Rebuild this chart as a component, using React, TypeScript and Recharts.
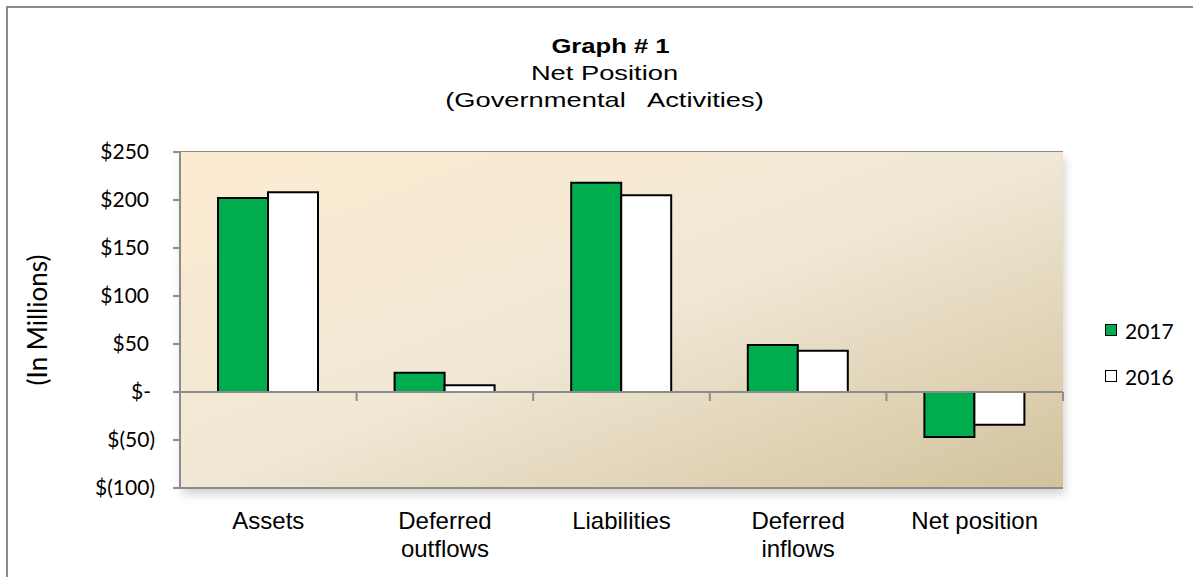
import React from 'react';
import { BarChart, Bar, XAxis, YAxis, CartesianGrid, Legend, ReferenceArea, ReferenceLine, Label } from 'recharts';

const categories = ['Assets', 'Deferred outflows', 'Liabilities', 'Deferred inflows', 'Net position'];
const values2017 = [202, 20, 218, 49, -47];
const values2016 = [208, 7, 205, 43, -34];
const yTicks = [-100, -50, 0, 50, 100, 150, 200, 250];

const data = categories.map((name, i) => ({
  name,
  y2017: values2017[i],
  y2016: values2016[i],
}));

const GREEN = '#00ad4e';
const GRID = '#8c8c8c';
const CAL = "Lato, 'Open Sans', sans-serif";
const ARIAL = "'Liberation Sans', Arial, sans-serif";

const W = 1185;
const H = 569;
const M_TOP = 144;
const PLOT_H = 336;
const Y_MIN = -100;
const Y_MAX = 250;

const fmtMoney = (v: number) => {
  if (v === 0) return '$-';
  if (v < 0) return `$(${Math.abs(v)})`;
  return `$${v}`;
};

const YTick = (props: any) => {
  const { x, y, payload } = props;
  const v = payload.value;
  const dx = v < 0 ? 0 : v === 0 ? -4 : -6;
  return (
    <text x={x + dx} y={y} dy={7} textAnchor="end" fontSize={21} fill="#000" fontFamily={CAL}>
      {fmtMoney(v)}
    </text>
  );
};

// tick marks sit on the zero line at the category edges
const XTick = (props: any) => {
  const { x, y, payload } = props;
  const words = String(payload.value).split(' ');
  const lines = words.length > 1 && payload.value !== 'Net position' ? words : [payload.value];
  const half = payload.offset ?? 88;
  const zeroY = M_TOP + ((Y_MAX - 0) / (Y_MAX - Y_MIN)) * PLOT_H;
  return (
    <g>
      <line x1={x + half} x2={x + half} y1={zeroY} y2={zeroY + 9} stroke={GRID} strokeWidth={2} />
      <text x={x} y={y + 33} textAnchor="middle" fontSize={24} fill="#000" fontFamily={ARIAL}>
        {lines.map((l: string, i: number) => (
          <tspan key={i} x={x} dy={i === 0 ? 0 : 28}>
            {l}
          </tspan>
        ))}
      </text>
    </g>
  );
};

const LegendContent = () => (
  <div style={{ fontFamily: CAL, fontSize: 21, color: '#000' }}>
    {[
      { label: '2017', fill: GREEN },
      { label: '2016', fill: '#fff' },
    ].map((it, i) => (
      <div key={it.label} style={{ display: 'flex', alignItems: 'center', height: 26, marginBottom: i === 0 ? 20 : 0 }}>
        <span style={{ display: 'inline-block', width: 10, height: 10, background: it.fill, border: '1.5px solid #000', marginRight: 8 }} />
        <span>{it.label}</span>
      </div>
    ))}
  </div>
);

export default function App() {
  return (
    <div style={{ position: 'absolute', left: 6, top: 6, width: 1187, height: 571, borderTop: `2px solid ${GRID}`, borderLeft: `2px solid ${GRID}`, background: '#fff', overflow: 'hidden' }}>
      <div style={{ position: 'absolute', left: 0, top: 24, width: 1185, textAlign: 'center', fontFamily: ARIAL, fontSize: 21, lineHeight: '27px', color: '#000' }}>
        <div style={{ fontWeight: 'bold', transform: 'translateX(10px) scaleX(1.22)' }}>Graph # 1</div>
        <div style={{ transform: 'translateX(4px) scaleX(1.3)' }}>Net Position</div>
        <div style={{ whiteSpace: 'pre', transform: 'translateX(4px) scaleX(1.3)' }}>(Governmental   Activities)</div>
      </div>
      <div style={{ position: 'absolute', left: 0, top: 0 }}>
        <BarChart
          width={W}
          height={H}
          data={data}
          margin={{ top: M_TOP, right: 40, left: 0, bottom: 0 }}
          barCategoryGap={38}
          barGap={0}
        >
          <defs>
            <linearGradient id="bg" x1="0" y1="0" x2="1" y2="1">
              <stop offset="0%" stopColor="#fdebd0" />
              <stop offset="50%" stopColor="#f0e8d5" />
              <stop offset="100%" stopColor="#d2c29c" />
            </linearGradient>
            <filter id="shadow" x="-5%" y="-5%" width="110%" height="125%">
              <feDropShadow dx="2" dy="6" stdDeviation="5" floodColor="#000" floodOpacity="0.18" />
            </filter>
          </defs>
          <ReferenceArea y1={Y_MIN} y2={Y_MAX} fill="url(#bg)" fillOpacity={1} stroke="none" filter="url(#shadow)" />
          <CartesianGrid vertical={false} stroke={GRID} strokeWidth={2} strokeOpacity={1} />
          <XAxis
            dataKey="name"
            height={89}
            interval={0}
            axisLine={{ stroke: GRID, strokeWidth: 2 }}
            tickLine={false}
            tick={<XTick />}
          />
          <YAxis
            width={172}
            domain={[Y_MIN, Y_MAX]}
            ticks={yTicks}
            interval={0}
            axisLine={{ stroke: GRID, strokeWidth: 2 }}
            tickLine={{ stroke: GRID, strokeWidth: 2 }}
            tickSize={7}
            tickMargin={18}
            tick={<YTick />}
          >
            <Label
              value="(In Millions)"
              angle={-90}
              position="insideLeft"
              offset={30}
              style={{ fontSize: 26, fill: '#000', fontFamily: CAL, textAnchor: 'middle' }}
            />
          </YAxis>
          <ReferenceLine y={0} stroke={GRID} strokeWidth={2} />
          <Bar dataKey="y2017" name="2017" fill={GREEN} stroke="#000" strokeWidth={2} isAnimationActive={false} />
          <Bar dataKey="y2016" name="2016" fill="#fff" stroke="#000" strokeWidth={2} isAnimationActive={false} />
          <Legend
            layout="vertical"
            align="right"
            verticalAlign="top"
            content={<LegendContent />}
            wrapperStyle={{ left: 1097, top: 309, width: 90 }}
          />
        </BarChart>
      </div>
    </div>
  );
}
